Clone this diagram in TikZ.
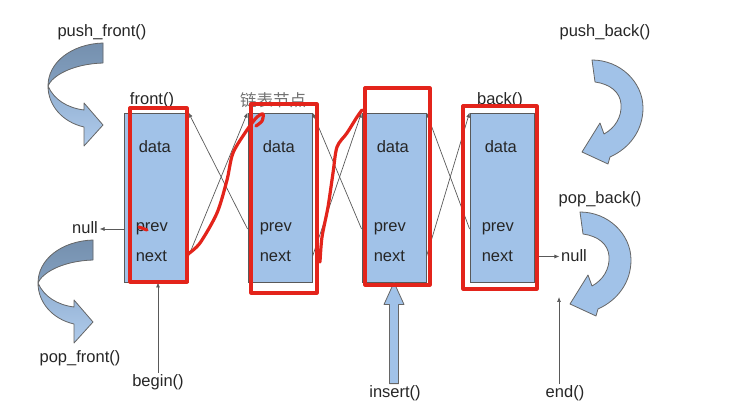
\documentclass[tikz,border=0pt]{standalone}
\usepackage{fontspec}
\setmainfont{Liberation Sans}
\newfontfamily\cjk{Noto Sans CJK SC}
\usetikzlibrary{positioning,arrows.meta,calc}
\definecolor{nodeblue}{HTML}{A1C2E8}
\definecolor{curldark}{HTML}{7590AE}
\definecolor{annot}{HTML}{E3241B}
\tikzset{
  lbl/.style={font=\fontsize{16.5}{19}\selectfont,text=black!85,inner sep=1.5pt},
  box/.style={draw=black!65,fill=nodeblue,line width=0.9pt,minimum width=64pt,
    minimum height=169pt,inner sep=0pt},
  ptr/.style={-{Latex[length=5pt,width=4pt]},line width=0.7pt,black!65},
  curl/.style={fill=nodeblue,draw=black!60,line width=0.8pt,line join=round},
  redmark/.style={annot,line width=3.2pt,line cap=round,line join=round},
  % ---- curved block arrows ----
  pics/curlL/.style={code={
    \draw[curl,top color=curldark,bottom color=curldark!70!nodeblue]
      (0,0) .. controls (-31,-1) and (-55,-19) .. (-55,-43)
      .. controls (-51,-33) and (-31,-21) .. (0,-20) -- cycle;
    \draw[curl,top color=nodeblue!90!black,bottom color=nodeblue!85]
      (-55,-43) .. controls (-55,-62) and (-41,-79) .. (-19,-84)
      -- (-19,-103) -- (0,-82) -- (-19,-60) -- (-19,-67)
      .. controls (-35,-65) and (-49,-57) .. (-55,-43) -- cycle;
  }},
  pics/curlR/.style={code={
    \draw[curl] (0,0) .. controls (28,0) and (51,-22) .. (51,-48)
      .. controls (51,-70) and (38,-88) .. (18,-97)
      -- (16,-104) -- (-10,-92) -- (8,-63) -- (12,-74)
      .. controls (23,-68) and (30,-57) .. (29,-44)
      .. controls (28,-32) and (18,-24) .. (3,-22) -- cycle;
  }},
}

\begin{document}
\begin{tikzpicture}[x=1pt,y=1pt]
  \useasboundingbox (0,0) rectangle (730,409);
  % list nodes
  \foreach \i/\x in {1/156,2/280,3/394,4/502}{
    \node[box] (n\i) at (\x,211.5) {};
    \node[lbl,anchor=west] (d\i) at ([xshift=13.5pt,yshift=50.5pt]n\i.west) {data};
    \node[lbl,anchor=west] (p\i) at ([xshift=10.5pt,yshift=-31.5pt]n\i.west) {prev};
    \node[lbl,anchor=west] (x\i) at ([xshift=10.5pt,yshift=-59pt]n\i.west) {next};
  }
  \foreach \i/\j in {1/2,2/3,3/4}{
    \draw[ptr] (n\i.east |- x\i) -- (n\j.north west);
    \draw[ptr] (n\j.west |- p\j) -- (n\i.north east);
  }
  \node[lbl] (front) at (152,309) {front()};
  \node[lbl,text=black!55] (title) at (273,309) {\cjk 链表节点};
  \node[lbl] (back) at (500,309) {back()};
  % null ends
  \node[lbl] (nullL) at (85,181) {null};
  \draw[ptr] (n1.west |- p1) -- (nullL.east |- p1);
  \node[lbl] (nullR) at (574,153) {null};
  \draw[ptr] (n4.east |- x4) -- (nullR.west |- x4);
  % iterators
  \node[lbl] (beginL) at (158,27) {begin()};
  \draw[ptr] (beginL.north) -- (beginL.north |- n1.south);
  \node[lbl] (endL) at (565,16) {end()};
  \coordinate (endTip) at (559,112);
  \draw[ptr] (endTip |- endL.north) -- (endTip);
  \node[lbl] (ins) at (395,16) {insert()};
  \coordinate (insBase) at (ins.north -| n3.south);
  \draw[curl] ([xshift=-4.5pt]insBase) -- ([xshift=-4.5pt,yshift=-22pt]n3.south)
    -- ([xshift=-10pt,yshift=-22pt]n3.south) -- (n3.south)
    -- ([xshift=10pt,yshift=-22pt]n3.south) -- ([xshift=4.5pt,yshift=-22pt]n3.south)
    -- ([xshift=4.5pt]insBase) -- cycle;
  % push / pop
  \node[lbl] (pushF) at (102,377) {push\_front()};
  \pic at (103,366) {curlL};
  \node[lbl] (popF) at (80,51) {pop\_front()};
  \pic at (93,169) {curlL};
  \node[lbl] (pushB) at (605,377) {push\_back()};
  \pic at (592,349) {curlR};
  \node[lbl] (popB) at (600,210) {pop\_back()};
  \pic at (580,197) {curlR};
  % red hand annotations
  \draw[redmark] (130,301) rectangle (187,127);
  \draw[redmark] (251,305) rectangle (317,116);
  \draw[redmark] (365,321) rectangle (430,124);
  \draw[redmark] (463,303) rectangle (537,120);
  \draw[redmark] plot[smooth] coordinates {(188,155) (200,166) (217,196) (227,229)
    (233,256) (247,279) (257,292) (263,295) (262,288) (256,283)};
  \draw[redmark] plot[smooth] coordinates {(320,147) (322,172) (328,202) (333,236)
    (337,262) (347,276) (357,292) (362,299)};
  \draw[redmark] (139,182) -- (147,179);
\end{tikzpicture}
\end{document}
